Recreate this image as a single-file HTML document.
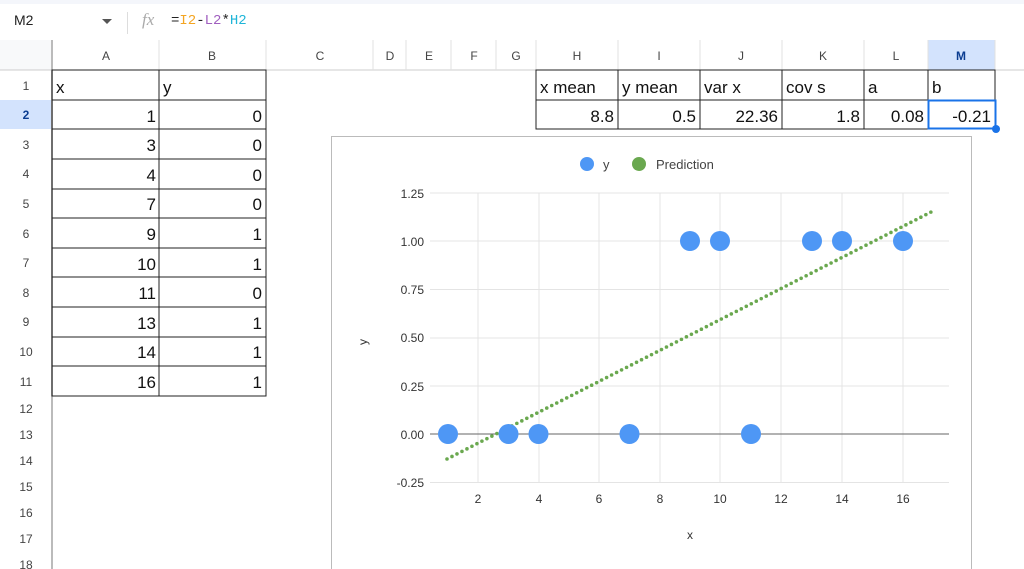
<!DOCTYPE html>
<html><head><style>
body{margin:0;width:1024px;height:569px;overflow:hidden;background:#fff;font-family:"Liberation Sans",Arial,sans-serif;position:relative}
.a{position:absolute}
</style></head><body>
<div class="a" style="left:0;top:0;width:1024px;height:4px;background:#f4f6fb"></div>
<div class="a" style="left:14px;top:12px;font-size:14px;color:#222">M2</div>
<div class="a" style="left:102px;top:19px;width:0;height:0;border-left:5px solid transparent;border-right:5px solid transparent;border-top:5px solid #555"></div>
<div class="a" style="left:127px;top:12px;width:1px;height:22px;background:#ddd"></div>
<div class="a" style="left:142px;top:10px;font-size:17px;color:#aaa;font-style:italic;font-family:'Liberation Serif',serif">fx</div>
<div class="a" style="left:171px;top:13px;font-size:14px;font-family:'Liberation Mono',monospace;color:#222">=<span style="color:#f4a522">I2</span>-<span style="color:#a05fbf">L2</span>*<span style="color:#1fb5d8">H2</span></div>
<svg class="a" style="left:0;top:0" width="1024" height="569">
<rect x="0" y="40" width="1024" height="30" fill="#fff"/>
<rect x="0" y="40" width="52" height="30" fill="#f8f9fa"/>
<rect x="928" y="40" width="67" height="30" fill="#d3e3fd"/>
<rect x="0" y="100" width="52" height="29" fill="#d3e3fd"/>
<line x1="0" y1="70" x2="1024" y2="70" stroke="#ccc"/>
<line x1="52" y1="40" x2="52" y2="569" stroke="#bbb" stroke-width="2"/>
<g stroke="#e0e0e0">
<line x1="159" y1="40" x2="159" y2="70"/><line x1="266" y1="40" x2="266" y2="70"/><line x1="373" y1="40" x2="373" y2="70"/><line x1="406" y1="40" x2="406" y2="70"/><line x1="451" y1="40" x2="451" y2="70"/><line x1="496" y1="40" x2="496" y2="70"/><line x1="536" y1="40" x2="536" y2="70"/><line x1="618" y1="40" x2="618" y2="70"/><line x1="700" y1="40" x2="700" y2="70"/><line x1="782" y1="40" x2="782" y2="70"/><line x1="864" y1="40" x2="864" y2="70"/><line x1="928" y1="40" x2="928" y2="70"/><line x1="995" y1="40" x2="995" y2="70"/>
</g>
<g font-size="12" fill="#444" text-anchor="middle">
<text x="106" y="60">A</text><text x="212" y="60">B</text><text x="320" y="60">C</text><text x="390" y="60">D</text><text x="429" y="60">E</text><text x="474" y="60">F</text><text x="516" y="60">G</text><text x="577" y="60">H</text><text x="659" y="60">I</text><text x="741" y="60">J</text><text x="823" y="60">K</text><text x="896" y="60">L</text><text x="961" y="60" fill="#0b3d91" font-weight="bold">M</text>
<text x="26" y="90">1</text><text x="26" y="119" fill="#0b3d91" font-weight="bold">2</text><text x="26" y="149">3</text><text x="26" y="178">4</text><text x="26" y="208">5</text><text x="26" y="238">6</text><text x="26" y="267">7</text><text x="26" y="297">8</text><text x="26" y="326">9</text><text x="26" y="356">10</text><text x="26" y="386">11</text><text x="26" y="413">12</text><text x="26" y="439">13</text><text x="26" y="465">14</text><text x="26" y="491">15</text><text x="26" y="517">16</text><text x="26" y="543">17</text><text x="26" y="569">18</text>
</g>
<g stroke="#222" fill="none">
<rect x="52" y="70" width="214" height="326"/><line x1="159" y1="70" x2="159" y2="396"/>
<line x1="52" y1="100" x2="266" y2="100"/><line x1="52" y1="129" x2="266" y2="129"/><line x1="52" y1="159" x2="266" y2="159"/><line x1="52" y1="189" x2="266" y2="189"/><line x1="52" y1="218" x2="266" y2="218"/><line x1="52" y1="248" x2="266" y2="248"/><line x1="52" y1="277" x2="266" y2="277"/><line x1="52" y1="307" x2="266" y2="307"/><line x1="52" y1="337" x2="266" y2="337"/><line x1="52" y1="366" x2="266" y2="366"/>
<rect x="536" y="70" width="459" height="59"/><line x1="536" y1="100" x2="995" y2="100"/>
<line x1="618" y1="70" x2="618" y2="129"/><line x1="700" y1="70" x2="700" y2="129"/><line x1="782" y1="70" x2="782" y2="129"/><line x1="864" y1="70" x2="864" y2="129"/><line x1="928" y1="70" x2="928" y2="129"/>
</g>
<rect x="928.5" y="100.5" width="67" height="28" fill="none" stroke="#1a73e8" stroke-width="2"/>
<circle cx="996" cy="129" r="4" fill="#1a73e8"/>
<g font-size="17" fill="#111">
<text x="56" y="93">x</text><text x="163" y="93">y</text>
<g text-anchor="end">
<text x="156" y="122">1</text><text x="262" y="122">0</text>
<text x="156" y="151">3</text><text x="262" y="151">0</text>
<text x="156" y="181">4</text><text x="262" y="181">0</text>
<text x="156" y="210">7</text><text x="262" y="210">0</text>
<text x="156" y="240">9</text><text x="262" y="240">1</text>
<text x="156" y="270">10</text><text x="262" y="270">1</text>
<text x="156" y="299">11</text><text x="262" y="299">0</text>
<text x="156" y="329">13</text><text x="262" y="329">1</text>
<text x="156" y="358">14</text><text x="262" y="358">1</text>
<text x="156" y="388">16</text><text x="262" y="388">1</text>
<text x="614" y="122">8.8</text><text x="696" y="122">0.5</text><text x="778" y="122">22.36</text><text x="860" y="122">1.8</text><text x="924" y="122">0.08</text><text x="991" y="122">-0.21</text>
</g>
<text x="540" y="93">x mean</text><text x="622" y="93">y mean</text><text x="704" y="93">var x</text><text x="786" y="93">cov s</text><text x="868" y="93">a</text><text x="932" y="93">b</text>
</g>
<rect x="331.5" y="136.5" width="640" height="440" fill="#fff" stroke="#bbb"/>
<circle cx="587" cy="164" r="7" fill="#4e97f5"/><text x="603" y="169" font-size="13" fill="#444">y</text>
<circle cx="639" cy="164" r="7" fill="#6aa84f"/><text x="656" y="169" font-size="13" fill="#444">Prediction</text>
<g stroke="#e4e4e4">
<line x1="430" y1="193" x2="949" y2="193"/><line x1="430" y1="241" x2="949" y2="241"/><line x1="430" y1="289.5" x2="949" y2="289.5"/><line x1="430" y1="338" x2="949" y2="338"/><line x1="430" y1="386" x2="949" y2="386"/><line x1="430" y1="482.5" x2="949" y2="482.5"/>
<line x1="478" y1="193" x2="478" y2="482"/><line x1="539" y1="193" x2="539" y2="482"/><line x1="599" y1="193" x2="599" y2="482"/><line x1="660" y1="193" x2="660" y2="482"/><line x1="720" y1="193" x2="720" y2="482"/><line x1="781" y1="193" x2="781" y2="482"/><line x1="842" y1="193" x2="842" y2="482"/><line x1="903" y1="193" x2="903" y2="482"/>
</g>
<line x1="430" y1="434" x2="949" y2="434" stroke="#666"/>
<g font-size="12" fill="#333" text-anchor="end">
<text x="424" y="198">1.25</text><text x="424" y="246">1.00</text><text x="424" y="294">0.75</text><text x="424" y="342">0.50</text><text x="424" y="391">0.25</text><text x="424" y="439">0.00</text><text x="424" y="487">-0.25</text>
</g>
<g font-size="12" fill="#333" text-anchor="middle">
<text x="478" y="503">2</text><text x="539" y="503">4</text><text x="599" y="503">6</text><text x="660" y="503">8</text><text x="720" y="503">10</text><text x="781" y="503">12</text><text x="842" y="503">14</text><text x="903" y="503">16</text>
<text x="690" y="539">x</text>
</g>
<text x="0" y="0" font-size="12" fill="#333" transform="translate(367,342) rotate(-90)" text-anchor="middle">y</text>
<line x1="447" y1="459" x2="935" y2="210" stroke="#6aa84f" stroke-width="3.6" stroke-linecap="round" stroke-dasharray="0 5.6"/>
<g fill="#4e97f5">
<circle cx="448" cy="434" r="10"/><circle cx="508.5" cy="434" r="10"/><circle cx="538.5" cy="434" r="10"/><circle cx="629.5" cy="434" r="10"/><circle cx="690" cy="241" r="10"/><circle cx="720" cy="241" r="10"/><circle cx="751" cy="434" r="10"/><circle cx="812" cy="241" r="10"/><circle cx="842" cy="241" r="10"/><circle cx="903" cy="241" r="10"/>
</g>
</svg>
</body></html>
